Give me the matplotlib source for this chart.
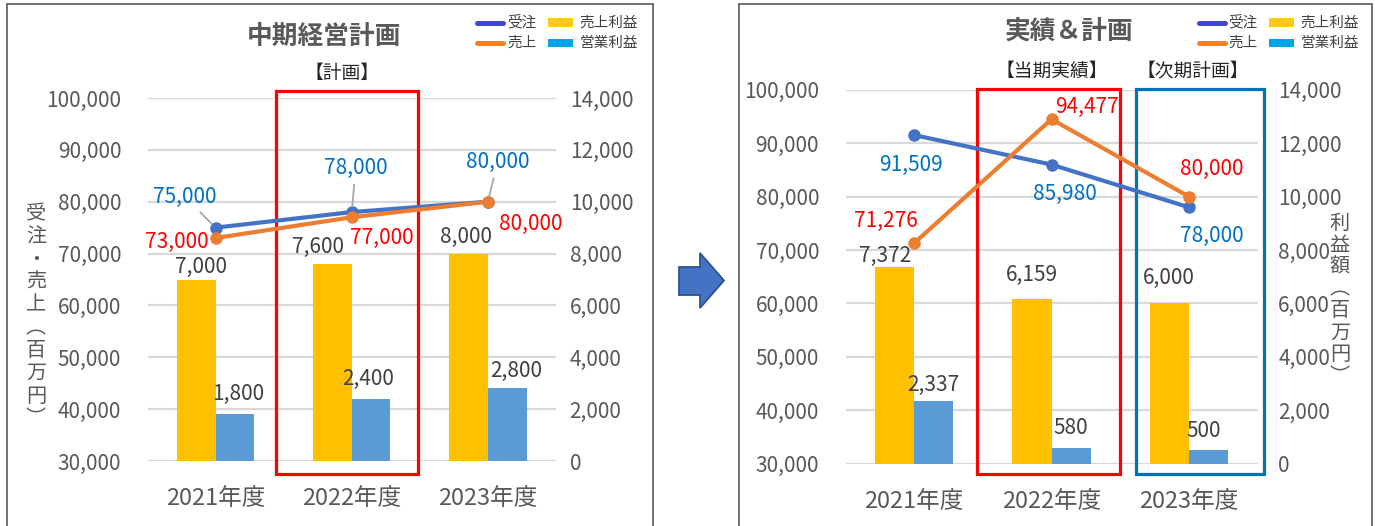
import matplotlib
matplotlib.use("Agg")
import matplotlib.pyplot as plt
from matplotlib.patches import Rectangle, Polygon
from matplotlib.lines import Line2D
import matplotlib.transforms as mtransforms
from matplotlib.ticker import FuncFormatter

plt.rcParams['font.family'] = ['Noto Sans CJK JP', 'DejaVu Sans']

# ---------------- data ----------------
categories = ['2021年度', '2022年度', '2023年度']
plan_orders = [75000, 78000, 80000]
plan_sales = [73000, 77000, 80000]
plan_gross = [7000, 7600, 8000]
plan_op = [1800, 2400, 2800]

act_orders = [91509, 85980, 78000]
act_sales = [71276, 94477, 80000]
act_gross = [7372, 6159, 6000]
act_op = [2337, 580, 500]

left_ticks = [30000, 40000, 50000, 60000, 70000, 80000, 90000, 100000]
right_ticks = [0, 2000, 4000, 6000, 8000, 10000, 12000, 14000]

legend_labels = ['受注', '売上', '売上利益', '営業利益']

# ---------------- styles ----------------
W, H = 1375, 526
C_ORD = '#4472C4'
C_SAL = '#ED7D31'
C_GROSS = '#FFC000'
C_OP = '#5B9BD5'
C_TXT = '#595959'
C_BLUE_LBL = '#0070C0'
C_RED_LBL = '#FF0000'
C_BAR_LBL = '#404040'
BW = 0.285

fig = plt.figure(figsize=(W / 100, H / 100), dpi=100)


def fx(x):
    return x / W


def fy(y):
    return 1 - y / H


fmt = FuncFormatter(lambda v, p: f'{int(v):,}')


def make_panel(x0, x1, ytop, ybot, lpad, rpad):
    ax = fig.add_axes([fx(x0), fy(ybot), (x1 - x0) / W, (ybot - ytop) / H])
    ax2 = ax.twinx()
    ax.yaxis.tick_right()
    ax2.yaxis.tick_left()
    for a in (ax, ax2):
        for s in a.spines.values():
            s.set_visible(False)
    ax.set_xlim(-0.5, 2.5)
    ax.set_ylim(right_ticks[0], right_ticks[-1])
    ax2.set_ylim(left_ticks[0], left_ticks[-1])
    ax.set_yticks(right_ticks)
    ax2.set_yticks(left_ticks)
    ax.yaxis.set_major_formatter(fmt)
    ax2.yaxis.set_major_formatter(fmt)
    ax.tick_params(axis='y', length=0, pad=rpad, labelsize=15, labelcolor=C_TXT)
    ax2.tick_params(axis='y', length=0, pad=lpad, labelsize=15, labelcolor=C_TXT)
    ax.set_xticks(range(len(categories)))
    ax.set_xticklabels(categories)
    ax.tick_params(axis='x', length=0, pad=19, labelsize=17, labelcolor=C_TXT)
    ax.yaxis.grid(True, color='#D9D9D9', lw=1.6)
    ax.set_axisbelow(True)
    return ax, ax2


def draw_data(ax, ax2, orders, sales, gross, op, ord_off, sal_off, gr_off, op_off, leaders=False):
    xs = list(range(len(categories)))
    xg = [x - BW / 2 for x in xs]
    xo = [x + BW / 2 for x in xs]
    ax.bar(xg, gross, width=BW, color=C_GROSS, zorder=2)
    ax.bar(xo, op, width=BW, color=C_OP, zorder=2)
    ax2.plot(xs, orders, color=C_ORD, lw=3, marker='o', ms=8, zorder=4)
    ax2.plot(xs, sales, color=C_SAL, lw=3, marker='o', ms=8, zorder=5)
    for i in xs:
        ax.annotate(f'{gross[i]:,}', (xg[i], gross[i]), xytext=gr_off[i], textcoords='offset pixels',
                    ha='center', va='center', fontsize=15, color=C_BAR_LBL)
        ax.annotate(f'{op[i]:,}', (xo[i], op[i]), xytext=op_off[i], textcoords='offset pixels',
                    ha='center', va='center', fontsize=15, color=C_BAR_LBL)
        if leaders:
            ax2.annotate(f'{orders[i]:,}', (xs[i], orders[i]), xytext=ord_off[i], textcoords='offset pixels',
                         ha='center', va='center', fontsize=15, color=C_BLUE_LBL, zorder=6,
                         arrowprops=dict(arrowstyle='-', color='#A6A6A6', lw=1.3, shrinkA=2, shrinkB=4))
        else:
            ax2.annotate(f'{orders[i]:,}', (xs[i], orders[i]), xytext=ord_off[i], textcoords='offset pixels',
                         ha='center', va='center', fontsize=15, color=C_BLUE_LBL, zorder=6)
        ax2.annotate(f'{sales[i]:,}', (xs[i], sales[i]), xytext=sal_off[i], textcoords='offset pixels',
                     ha='center', va='center', fontsize=15, color=C_RED_LBL, zorder=6)


def frame_box(ax, xa, xb, ya, yb, color):
    tr = mtransforms.blended_transform_factory(ax.transData, ax.transAxes)
    r = Rectangle((xa, ya), xb - xa, yb - ya, transform=tr, fill=False, ec=color, lw=2.3,
                  clip_on=False, zorder=3)
    ax.add_patch(r)


def legend(x_line, x_patch):
    rows = [22.5, 43]
    fig.add_artist(Line2D([fx(x_line), fx(x_line + 26)], [fy(rows[0])] * 2, color='#3F48CC', lw=3.6,
                          solid_capstyle='round'))
    fig.add_artist(Line2D([fx(x_line), fx(x_line + 26)], [fy(rows[1])] * 2, color='#FF7F27', lw=3.6,
                          solid_capstyle='round'))
    fig.add_artist(Rectangle((fx(x_patch), fy(rows[0] + 4)), 25.5 / W, 8 / H, color='#FFC90E', lw=0))
    fig.add_artist(Rectangle((fx(x_patch), fy(rows[1] + 4)), 25.5 / W, 8 / H, color='#00A2E8', lw=0))
    fig.text(fx(x_line + 30), fy(rows[0]), legend_labels[0], fontsize=10.5, color='#404040', va='center')
    fig.text(fx(x_line + 30), fy(rows[1]), legend_labels[1], fontsize=10.5, color='#404040', va='center')
    fig.text(fx(x_patch + 32), fy(rows[0]), legend_labels[2], fontsize=10.5, color='#404040', va='center')
    fig.text(fx(x_patch + 32), fy(rows[1]), legend_labels[3], fontsize=10.5, color='#404040', va='center')


def vlabel(x, y0, step, chars):
    for i, ch in enumerate(chars):
        fig.text(fx(x), fy(y0 + i * step), ch, fontsize=14.5, color=C_TXT, ha='center', va='center')


# ---------------- panel borders ----------------
fig.add_artist(Rectangle((fx(6.5), -0.05), (653 - 6.5) / W, fy(4.5) + 0.05, fill=False, ec='#595959', lw=1.2))
fig.add_artist(Rectangle((fx(738.5), -0.05), (1372 - 738.5) / W, fy(4.5) + 0.05, fill=False, ec='#595959', lw=1.2))

# ---------------- panel 1 ----------------
ax1, ax1b = make_panel(147.6, 555.8, 98, 461, lpad=19, rpad=10)
draw_data(ax1, ax1b, plan_orders, plan_sales, plan_gross, plan_op,
          ord_off=[(-31, 31), (4, 44), (10, 40)],
          sal_off=[(-39, -4), (30, -21), (43, -22)],
          gr_off=[(5, 13), (-14, 17), (-2, 17)],
          op_off=[(3, 20), (-3, 20), (9, 17)], leaders=True)
frame_box(ax1, 0.44, 1.49, -0.036, 1.019, '#FF0000')
fig.text(fx(324), fy(36.5), '中期経営計画', fontsize=18.5, fontweight='bold', color=C_TXT, ha='center', va='center')
fig.text(fx(342), fy(73), '【計画】', fontsize=13.5, color='#262626', ha='center', va='center')
legend(477, 547.5)
vlabel(36, 214, 22.8, ['受', '注', '・', '売', '上', '︵', '百', '万', '円', '︶'])

# ---------------- panel 2 ----------------
ax2, ax2b = make_panel(845.5, 1257.5, 89.7, 463.7, lpad=19, rpad=15)
draw_data(ax2, ax2b, act_orders, act_sales, act_gross, act_op,
          ord_off=[(-3, -30), (13, -29), (23, -29)],
          sal_off=[(-28, 22), (35, 12), (23, 28)],
          gr_off=[(-9, 11), (0, 24), (0, 25)],
          op_off=[(0, 16), (0, 20), (-5, 19)])
frame_box(ax2, 0.458, 1.496, -0.028, 1.002, '#FF0000')
frame_box(ax2, 1.616, 2.548, -0.028, 1.002, '#0070C0')
fig.text(fx(1069), fy(31), '実績＆計画', fontsize=18.5, fontweight='bold', color=C_TXT, ha='center', va='center')
fig.text(fx(1052), fy(71), '【当期実績】', fontsize=13.5, color='#262626', ha='center', va='center')
fig.text(fx(1193), fy(71), '【次期計画】', fontsize=13.5, color='#262626', ha='center', va='center')
legend(1198.5, 1268.5)
vlabel(1340, 223, 22, ['利', '益', '額', '︵', '百', '万', '円', '︶'])

# ---------------- arrow ----------------
arrow_pts = [(679, 267), (700, 267), (700, 253), (724, 280.5), (700, 308), (700, 295), (679, 295)]
fig.add_artist(Polygon([(fx(x), fy(y)) for x, y in arrow_pts], closed=True, fc='#4472C4', ec='#2F528F', lw=1.3))

fig.savefig('out.png', dpi=100)
